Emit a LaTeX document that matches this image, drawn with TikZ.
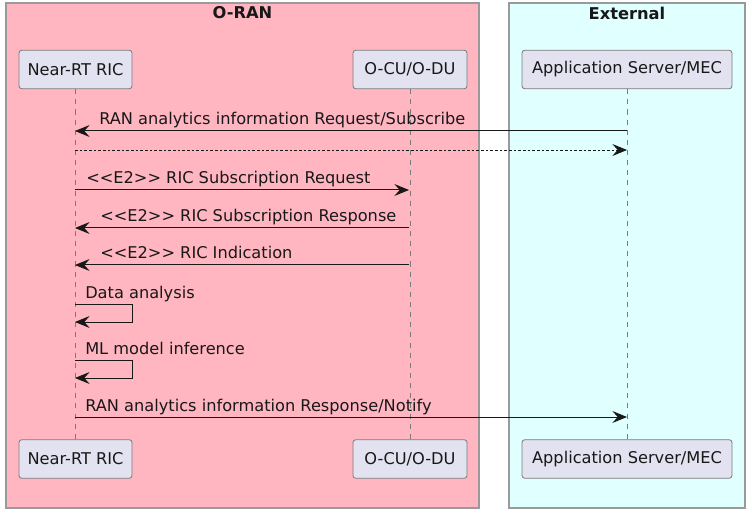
\documentclass[tikz,border=0pt]{standalone}
\usepackage{fontspec}
\setmainfont{DejaVu Sans}
\usetikzlibrary{arrows.meta}
\definecolor{pinkbg}{HTML}{FFB6C1}
\definecolor{cyanbg}{HTML}{E0FFFF}
\definecolor{partbg}{HTML}{E2E2F0}
\definecolor{partbd}{HTML}{7A7A7A}
\definecolor{grpbd}{HTML}{9A9A9A}
\definecolor{ink}{HTML}{181818}
\definecolor{lifec}{HTML}{7A7A7A}
\tikzset{
  grp/.style={draw=grpbd, line width=0.8pt},
  part/.style={draw=partbd, fill=partbg, rounded corners=2.2pt, line width=0.6pt,
    minimum height=29pt, inner sep=0pt, text=ink},
  life/.style={draw=lifec, line width=0.6pt, dash pattern=on 3.8pt off 3.8pt},
  msg/.style={draw=ink, line width=0.75pt, -{Stealth[length=11pt,width=9pt,inset=4pt]}},
  dmsg/.style={msg, line width=0.7pt, dash pattern=on 1.9pt off 1.6pt},
  lbl/.style={inner sep=0pt, anchor=base west, text=ink},
  ttl/.style={font=\fontsize{12.2}{14}\selectfont\bfseries, text=ink}
}
\begin{document}
\begin{tikzpicture}[x=0.75pt,y=-0.75pt, font=\fontsize{12.15}{14}\selectfont]
\useasboundingbox (0,0) rectangle (752,516);
\fill[white] (0,0) rectangle (752,516);
% groups
\draw[grp, fill=pinkbg] (6,3) rectangle (479,508);
\draw[grp, fill=cyanbg] (509,3) rectangle (745,508);
\node[ttl] (tor) at (242.5,13) {O-RAN};
\node[ttl] (tex) at (627,13) {External};
% participants
\node[part, minimum width=84.8pt] (ric) at (75.5,69.5) {Near-RT RIC};
\node[part, minimum width=85.5pt] (cu) at (410,69.5) {O-CU/O-DU};
\node[part, minimum width=157.5pt] (app) at (627,69.5) {Application Server/MEC};
\node[part, minimum width=84.8pt] (ricb) at (75.5,459) {Near-RT RIC};
\node[part, minimum width=85.5pt] (cub) at (410,459) {O-CU/O-DU};
\node[part, minimum width=157.5pt] (appb) at (627,459) {Application Server/MEC};
% lifelines
\draw[life] (ric.south) -- (ricb.north);
\draw[life] (cu.south) -- (cub.north);
\draw[life] (app.south) -- (appb.north);
% message end points
\coordinate (r1) at (75,131); \coordinate (a1) at (627,131);
\coordinate (r2) at (75,150); \coordinate (a2) at (627,150);
\coordinate (r3) at (75,190); \coordinate (c3) at (409,190);
\coordinate (r4) at (75,228); \coordinate (c4) at (409,228);
\coordinate (r5) at (75,265); \coordinate (c5) at (409,265);
\coordinate (r6) at (75,304); \coordinate (s6) at (132,304); \coordinate (t6) at (132,322); \coordinate (e6) at (75,322);
\coordinate (r7) at (75,360); \coordinate (s7) at (132,360); \coordinate (t7) at (132,378); \coordinate (e7) at (75,378);
\coordinate (r8) at (75,417); \coordinate (a8) at (627,417);
% messages
\draw[msg] (a1) -- (r1);
\node[lbl] (l1) at (99,125) {RAN analytics information Request/Subscribe};
\draw[dmsg] (r2) -- (a2);
\draw[msg] (r3) -- (c3);
\node[lbl] (l3) at (86,184) {<{}<E2>{}> RIC Subscription Request};
\draw[msg] (c4) -- (r4);
\node[lbl] (l4) at (100,222) {<{}<E2>{}> RIC Subscription Response};
\draw[msg] (c5) -- (r5);
\node[lbl] (l5) at (100,259) {<{}<E2>{}> RIC Indication};
\draw[msg] (r6) -- (s6) -- (t6) -- (e6);
\node[lbl] (l6) at (85,298) {Data analysis};
\draw[msg] (r7) -- (s7) -- (t7) -- (e7);
\node[lbl] (l7) at (85,354) {ML model inference};
\draw[msg] (r8) -- (a8);
\node[lbl] (l8) at (85,411) {RAN analytics information Response/Notify};
\end{tikzpicture}
\end{document}
